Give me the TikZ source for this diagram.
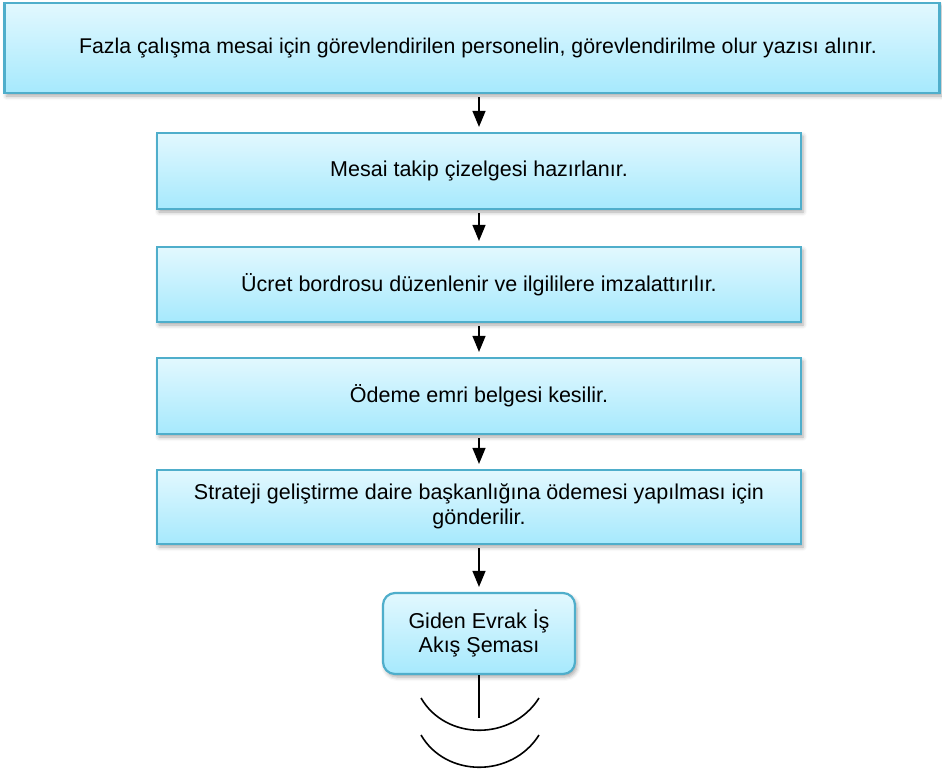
\documentclass[tikz,border=0pt]{standalone}
\usepackage{fontspec}
\setmainfont{Liberation Sans}
\usetikzlibrary{arrows.meta,shadows.blur}
\definecolor{boxtop}{HTML}{E2F8FE}
\definecolor{boxbot}{HTML}{A6E9FD}
\definecolor{boxline}{HTML}{4FAECB}
\tikzset{
  stepbox/.style={draw=boxline, line width=2.2pt, top color=boxtop, bottom color=boxbot,
    blur shadow={shadow xshift=2pt, shadow yshift=-3pt, shadow blur radius=4pt, shadow opacity=35},
    align=center, font=\fontsize{21.5}{25}\selectfont, inner sep=0pt},
  arr/.style={line width=1.3pt, -{Triangle[width=13pt,length=16pt]}, shorten <=3pt, shorten >=5pt},
  plainline/.style={line width=1.6pt}
}
\begin{document}
\begin{tikzpicture}[x=1pt,y=-1pt]
\useasboundingbox (0,0) rectangle (942,772);
\node[stepbox, minimum width=935pt, minimum height=90pt, font=\fontsize{21.3}{25}\selectfont] (a) at (472,48) {\hspace*{12pt}Fazla çalışma mesai için görevlendirilen personelin, görevlendirilme olur yazısı alınır.};
\node[stepbox, minimum width=644pt, minimum height=76pt] (b) at (479,171) {Mesai takip çizelgesi hazırlanır.};
\node[stepbox, minimum width=644pt, minimum height=75pt] (c) at (479,284.5) {Ücret bordrosu düzenlenir ve ilgililere imzalattırılır.};
\node[stepbox, minimum width=644pt, minimum height=76pt] (d) at (479,396) {Ödeme emri belgesi kesilir.};
\node[stepbox, minimum width=644pt, minimum height=74pt] (e) at (479,507) {Strateji geliştirme daire başkanlığına ödemesi yapılması için\\gönderilir.\rule[-6pt]{0pt}{6pt}};
\node[stepbox, rounded corners=12pt, minimum width=192pt, minimum height=81pt, font=\fontsize{21.5}{24}\selectfont] (f) at (479,633.5) {Giden Evrak İş\\Akış Şeması};
\draw[arr] (a.south -| b.north) -- (b.north);
\draw[arr] (b.south) -- (c.north);
\draw[arr] (c.south) -- (d.north);
\draw[arr] (d.south) -- (e.north);
\draw[arr] (e.south) -- (f.north);
\coordinate (lend) at (479,718);
\draw[plainline] (f.south) -- (lend);
\coordinate (a1s) at (421,698);
\coordinate (a1e) at (539,698);
\coordinate (a2s) at (421,735);
\coordinate (a2e) at (539,735);
\draw[plainline] (a1s) .. controls (446,741) and (512,741) .. (a1e);
\draw[plainline] (a2s) .. controls (446,778) and (512,778) .. (a2e);
\end{tikzpicture}
\end{document}
